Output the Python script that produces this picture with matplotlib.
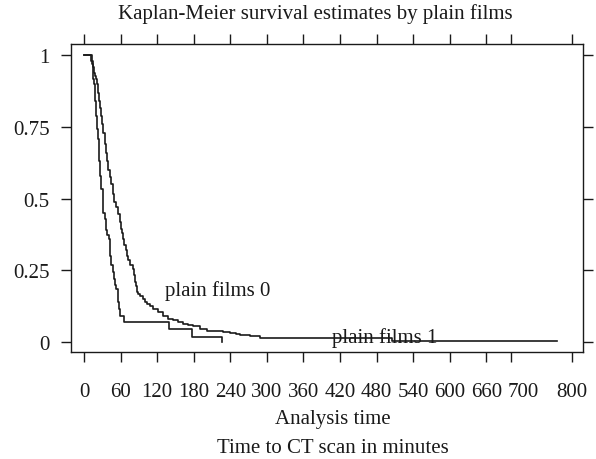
import matplotlib
matplotlib.use("Agg")
import matplotlib.pyplot as plt

# Kaplan-Meier step readings: time (minutes) -> survival from that time on
t0 = [0, 12, 14, 16, 18, 19.7, 21.3, 23, 25, 26.7, 28.4, 30, 31.5, 33.9, 36, 38, 40,
      42, 45, 47.6, 50, 52, 55, 58.5, 60.2, 62, 64, 66, 68.5, 71, 73, 76, 80.4, 82,
      83.5, 85.3, 87, 89, 92, 96, 99.5, 104, 108, 113.7, 121, 130, 138, 146, 154,
      163, 171, 179, 190, 201, 218, 228.5, 240, 250, 256, 272, 289, 505, 776]
s0 = [1.0, 0.98, 0.96, 0.94, 0.93, 0.918, 0.9, 0.87, 0.84, 0.815, 0.79, 0.76, 0.73,
      0.69, 0.66, 0.63, 0.6, 0.575, 0.55, 0.515, 0.49, 0.47, 0.445, 0.418, 0.395,
      0.38, 0.36, 0.34, 0.32, 0.30, 0.285, 0.27, 0.255, 0.235, 0.21, 0.197, 0.174,
      0.167, 0.16, 0.15, 0.139, 0.133, 0.125, 0.115, 0.104, 0.092, 0.08, 0.075, 0.07,
      0.063, 0.06, 0.057, 0.045, 0.04, 0.037, 0.034, 0.031, 0.028, 0.026, 0.022,
      0.014, 0.005, 0.005]

t1 = [0, 13, 14, 15, 16.5, 17.5, 18.5, 19.7, 21.3, 22.5, 24, 25, 26.2, 27.3, 28.4,
      30.6, 32, 33.9, 35.5, 38, 40.5, 42.7, 45, 47.6, 49, 50.9, 53, 55, 56.9, 59, 65.6,
      139, 177, 226]
s1 = [1.0, 0.97, 0.95, 0.918, 0.9, 0.88, 0.84, 0.79, 0.744, 0.71, 0.674, 0.63, 0.58,
      0.555, 0.534, 0.465, 0.45, 0.43, 0.39, 0.375, 0.36, 0.30, 0.27, 0.243, 0.22,
      0.2, 0.185, 0.14, 0.115, 0.092, 0.069, 0.045, 0.018, 0.0]

xticks = [0, 60, 120, 180, 240, 300, 360, 420, 480, 540, 600, 660, 700, 800]
xlabel_pos = [0, 60, 120, 180, 240, 300, 360, 420, 480, 540, 600, 660, 720, 800]
xlabels = ["0", "60", "120", "180", "240", "300", "360", "420", "480", "540",
           "600", "660", "700", "800"]
yticks = [0, 0.25, 0.5, 0.75, 1]
ylabels = ["0", "0.25", "0.5", "0.75", "1"]

plt.rcParams['font.family'] = ['Liberation Serif', 'DejaVu Serif']
plt.rcParams['font.size'] = 15
ink = '#1a1a1a'

fig = plt.figure(figsize=(5.96, 4.6), dpi=100)
ax = fig.add_axes([71/596, 1-353/460, (583-71)/596, (353-45.3)/460])

ax.step(t0, s0, where='post', color=ink, lw=1.2)
ax.step(t1, s1, where='post', color=ink, lw=1.2)

ax.text(133, 0.164, "plain films 0", color=ink, ha='left', va='baseline')
ax.text(407, 0.0, "plain films 1", color=ink, ha='left', va='baseline')

ax.set_xlim(-21.3, 818.6)
ax.set_ylim(-0.035, 1.039)
# tick marks (major, unlabelled) and tick labels (minor, no mark)
ax.xaxis.remove_overlapping_locs = False
ax.set_xticks(xticks)
ax.set_xticklabels([])
ax.set_xticks(xlabel_pos, minor=True)
ax.set_xticklabels(xlabels, minor=True)
ax.set_yticks(yticks)
ax.set_yticklabels(ylabels)
ax.tick_params(which='major', direction='out', length=7.5, width=1, color=ink,
               labelcolor=ink, top=True, right=True, labeltop=False, labelright=False)
ax.tick_params(axis='x', which='minor', length=0, pad=21.5, labelcolor=ink,
               top=False, labeltop=False)
ax.tick_params(axis='y', pad=8)
for sp in ax.spines.values():
    sp.set_color(ink)
    sp.set_linewidth(1)

fig.text(315/596, 1-19/460, "Kaplan-Meier survival estimates by plain films",
         ha='center', va='baseline', color=ink)
fig.text(333/596, 1-424/460, "Analysis time", ha='center', va='baseline', color=ink)
fig.text(333/596, 1-453/460, "Time to CT scan in minutes", ha='center', va='baseline', color=ink)

fig.savefig("out.png", dpi=100)
